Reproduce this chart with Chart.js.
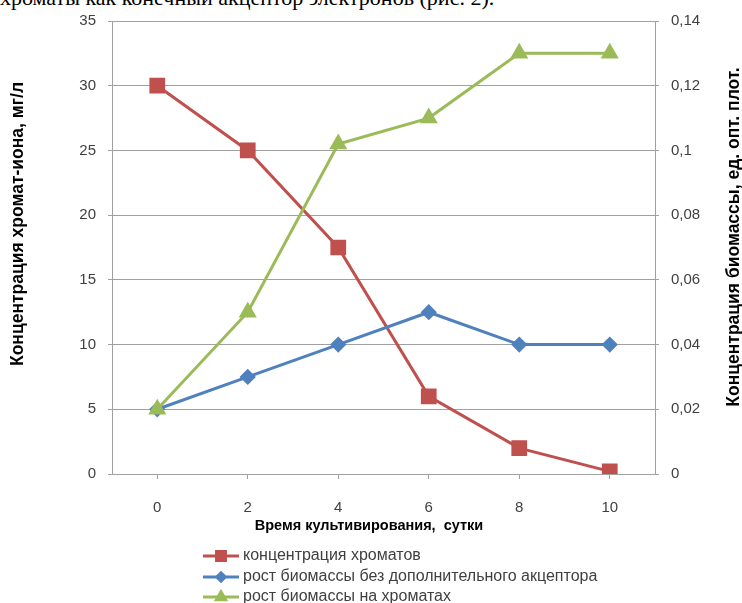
<!DOCTYPE html>
<html>
<head>
<meta charset="utf-8">
<script src="https://cdn.jsdelivr.net/npm/chart.js@4.4.1/dist/chart.umd.min.js"></script>
<style>
  html, body { margin: 0; padding: 0; background: #fff; }
  #wrap { position: relative; width: 742px; height: 603px; overflow: hidden; }
  #chart { position: absolute; left: 0; top: 0; }
  #lead {
    position: absolute; left: 0; top: -15px; white-space: nowrap;
    font: 22px "Liberation Serif", "Times New Roman", serif; color: #000;
  }
</style>
</head>
<body>
<div id="wrap">
  <div id="lead">хроматы как конечный акцептор электронов (рис. 2).</div>
  <canvas id="chart" width="742" height="603"></canvas>
</div>
<script>
// Cultivation time, days
const days = ['0', '2', '4', '6', '8', '10'];
// Chromate-ion concentration, mg/l (left axis)
const chromate = [30, 25, 17.5, 6, 2, 0.2];
// Biomass, optical density units (right axis)
const biomassNoAcceptor = [0.02, 0.03, 0.04, 0.05, 0.04, 0.04];
const biomassOnChromate = [0.02, 0.05, 0.102, 0.11, 0.13, 0.13];

const seriesNames = [
  'концентрация хроматов',
  'рост биомассы без дополнительного акцептора',
  'рост биомассы на хроматах'
];
const leftTitle = 'Концентрация хромат-иона, мг/л';
const rightTitle = 'Концентрация биомассы, ед. опт. плот.';
const xTitle = 'Время культивирования,  сутки';

const RED = '#C0504D', BLUE = '#4F81BD', GREEN = '#9BBB59';
const GRID = '#A0A0A0';
const TICK_FONT = { family: 'Liberation Sans', size: 15 };

// Axis titles and the legend (line + marker samples)
const annotations = {
  id: 'annotations',
  afterDraw(chart) {
    const ctx = chart.ctx;
    ctx.save();
    ctx.fillStyle = '#000';
    ctx.textAlign = 'center';
    ctx.textBaseline = 'middle';
    ctx.font = 'bold 17.5px "Liberation Sans"';
    ctx.save(); ctx.translate(18, 224); ctx.rotate(-Math.PI / 2); ctx.fillText(leftTitle, 0, 0); ctx.restore();
    ctx.save(); ctx.translate(734, 237); ctx.rotate(-Math.PI / 2); ctx.fillText(rightTitle, 0, 0); ctx.restore();
    ctx.font = 'bold 14.5px "Liberation Sans"';
    ctx.fillText(xTitle, 369, 526);

    const rows = [556, 577, 597];
    chart.data.datasets.forEach((ds, i) => {
      const y = rows[i];
      ctx.strokeStyle = ds.borderColor;
      ctx.lineWidth = 3;
      ctx.beginPath(); ctx.moveTo(203, y); ctx.lineTo(239, y); ctx.stroke();
      Chart.helpers.drawPoint(ctx, {
        pointStyle: ds.pointStyle, radius: ds.pointRadius * 0.7, borderWidth: 1, rotation: 0
      }, 221, y);
      ctx.fillStyle = ds.borderColor;
      ctx.fill();
      ctx.fillStyle = '#404040';
      ctx.textAlign = 'left';
      ctx.font = '16px "Liberation Sans"';
      ctx.fillText(ds.label, 243, y);
    });
    ctx.restore();
  }
};

function comma(v) {
  const r = Math.round(v * 100) / 100;
  return String(r).replace('.', ',');
}

new Chart(document.getElementById('chart'), {
  type: 'line',
  data: {
    labels: days,
    datasets: [
      {
        label: seriesNames[0], data: chromate, yAxisID: 'y', order: 3,
        borderColor: RED, backgroundColor: RED, borderWidth: 3,
        pointStyle: 'rect', pointRadius: 9, pointHoverRadius: 9, tension: 0
      },
      {
        label: seriesNames[1], data: biomassNoAcceptor, yAxisID: 'y2', order: 2,
        borderColor: BLUE, backgroundColor: BLUE, borderWidth: 3,
        pointStyle: 'rectRot', pointRadius: 6, pointHoverRadius: 6, tension: 0
      },
      {
        label: seriesNames[2], data: biomassOnChromate, yAxisID: 'y2', order: 1,
        borderColor: GREEN, backgroundColor: GREEN, borderWidth: 3,
        pointStyle: 'triangle', pointRadius: 7.5, pointHoverRadius: 7.5, tension: 0
      }
    ]
  },
  options: {
    responsive: false,
    animation: false,
    events: [],
    layout: { padding: { left: 0, right: 0, top: 18, bottom: 69 } },
    plugins: { legend: { display: false }, tooltip: { enabled: false } },
    scales: {
      x: {
        type: 'category',
        offset: true,
        grid: { display: true, drawOnChartArea: false, offset: false, color: GRID, tickLength: 5 },
        border: { display: true, color: GRID },
        ticks: { color: '#404040', font: TICK_FONT, padding: 20, maxRotation: 0 },
        afterFit(s) { s.height = 60; }
      },
      y: {
        position: 'left',
        min: 0, max: 35,
        ticks: { stepSize: 5, color: '#404040', font: TICK_FONT, padding: 12 },
        grid: { color: GRID, tickLength: 4 },
        border: { display: true, color: GRID },
        afterFit(s) { s.width = 112; }
      },
      y2: {
        position: 'right',
        min: 0, max: 0.14,
        ticks: { stepSize: 0.02, color: '#404040', font: TICK_FONT, padding: 12, callback: v => comma(v) },
        grid: { drawOnChartArea: false, color: GRID, tickLength: 4 },
        border: { display: true, color: GRID },
        afterFit(s) { s.width = 87; }
      }
    }
  },
  plugins: [annotations]
});
</script>
</body>
</html>
